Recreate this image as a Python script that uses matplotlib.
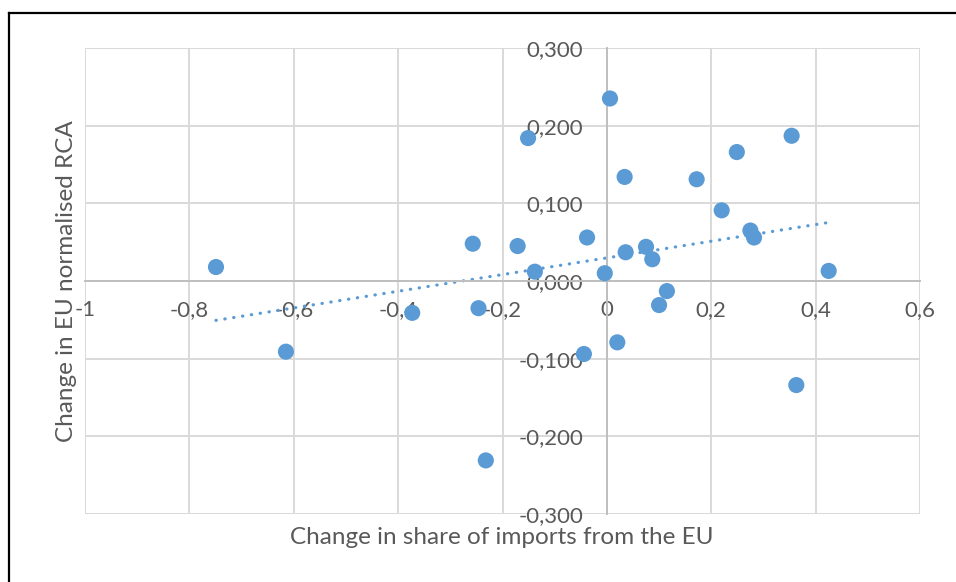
import numpy as np
import matplotlib
matplotlib.use("Agg")
import matplotlib.pyplot as plt
from matplotlib.lines import Line2D

# change in share of imports from the EU (x) vs change in EU normalised RCA (y)
share_change = [-0.749, -0.615, -0.373, -0.257, -0.246, -0.232, -0.171, -0.151,
                -0.138, -0.038, -0.044, -0.004, 0.006, 0.020, 0.034, 0.036,
                0.075, 0.087, 0.115, 0.100, 0.172, 0.220, 0.249, 0.275,
                0.282, 0.354, 0.425, 0.363]
rca_change = [0.018, -0.091, -0.041, 0.048, -0.035, -0.231, 0.045, 0.184,
              0.012, 0.056, -0.094, 0.010, 0.235, -0.079, 0.134, 0.037,
              0.044, 0.028, -0.013, -0.031, 0.131, 0.091, 0.166, 0.065,
              0.056, 0.187, 0.013, -0.134]

x_ticks = [-1, -0.8, -0.6, -0.4, -0.2, 0, 0.2, 0.4, 0.6]
x_tick_labels = ['-1', '-0,8', '-0,6', '-0,4', '-0,2', '0', '0,2', '0,4', '0,6']
y_ticks = [-0.3, -0.2, -0.1, 0, 0.1, 0.2, 0.3]
y_tick_labels = ['-0,300', '-0,200', '-0,100', '0,000', '0,100', '0,200', '0,300']

blue = '#5B9BD5'
text_grey = '#595959'
W, H = 956, 582

plt.rcParams['font.family'] = ['Lato', 'DejaVu Sans']

fig = plt.figure(figsize=(W / 100, H / 100), dpi=100)
ax = fig.add_axes([85 / W, 1 - 514 / H, (920 - 85) / W, (514 - 48) / H])

ax.set_xlim(-1, 0.6)
ax.set_ylim(-0.3, 0.3)

# gridlines
ax.set_xticks(x_ticks)
ax.set_yticks(y_ticks)
ax.grid(True, color='#d9d9d9', linewidth=1.4)
ax.set_axisbelow(True)

# axes cross at zero
for side in ['top', 'right']:
    ax.spines[side].set_visible(False)
ax.spines['left'].set_position(('data', 0))
ax.spines['bottom'].set_position(('data', 0))
ax.spines['left'].set_color('#bfbfbf')
ax.spines['bottom'].set_color('#bfbfbf')
ax.spines['left'].set_linewidth(1.4)
ax.spines['bottom'].set_linewidth(1.4)

ax.set_xticklabels(x_tick_labels)
ax.set_yticklabels(y_tick_labels)
ax.tick_params(axis='both', length=0, labelsize=16, colors=text_grey)
ax.tick_params(axis='x', pad=14)
ax.tick_params(axis='y', pad=17)

# scatter
ax.scatter(share_change, rca_change, s=135, color=blue, edgecolors='none', zorder=3)

# linear trendline
xs = np.array(share_change)
ys = np.array(rca_change)
slope, intercept = np.polyfit(xs, ys, 1)
tx = np.array([xs.min(), xs.max()])
ax.plot(tx, slope * tx + intercept, color=blue, linewidth=2.3,
        linestyle=(0, (0.1, 2.7)), dash_capstyle='round', zorder=2)

# axis titles
fig.text(502 / W, 1 - 537 / H, 'Change in share of imports from the EU',
         ha='center', va='center', fontsize=17.5, color=text_grey)
fig.text(67 / W, 1 - 281 / H, 'Change in EU normalised RCA', rotation=90,
         ha='center', va='center', fontsize=17.5, color=text_grey)

# outer frame (top and left edges visible)
fig.add_artist(Line2D([9 / W, 9 / W], [0, 1 - 13 / H], color='black', linewidth=1.6,
                      transform=fig.transFigure))
fig.add_artist(Line2D([9 / W, 1], [1 - 13 / H, 1 - 13 / H], color='black', linewidth=1.6,
                      transform=fig.transFigure))

fig.savefig('out.png', dpi=100)
